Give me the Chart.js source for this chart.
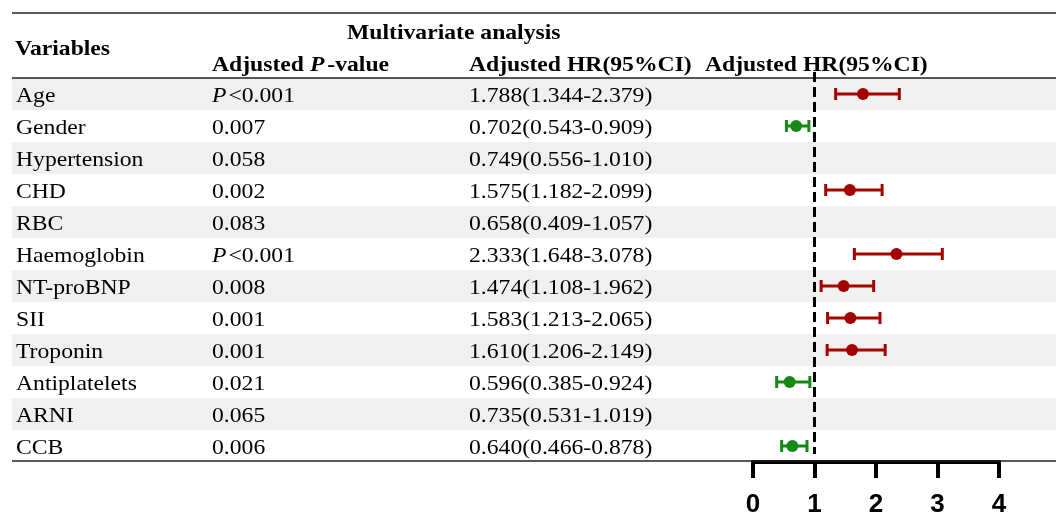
<!DOCTYPE html>
<html>
<head>
<meta charset="utf-8">
<script src="https://cdn.jsdelivr.net/npm/chart.js@4.4.1/dist/chart.umd.min.js"></script>
<style>
  html, body { margin: 0; padding: 0; background: #ffffff; }
  #wrap { width: 1056px; height: 512px; }
</style>
</head>
<body>
<div id="wrap"><canvas id="c" width="1056" height="512"></canvas></div>
<script>
const variables = ['Age','Gender','Hypertension','CHD','RBC','Haemoglobin','NT-proBNP','SII','Troponin','Antiplatelets','ARNI','CCB'];
const pLabels = ['P<0.001','0.007','0.058','0.002','0.083','P<0.001','0.008','0.001','0.001','0.021','0.065','0.006'];
const hrValues = [1.788,0.702,0.749,1.575,0.658,2.333,1.474,1.583,1.610,0.596,0.735,0.640];
const lowerCI = [1.344,0.543,0.556,1.182,0.409,1.648,1.108,1.213,1.206,0.385,0.531,0.466];
const upperCI = [2.379,0.909,1.010,2.099,1.057,3.078,1.962,2.065,2.149,0.924,1.019,0.878];
const xTicks = [0,1,2,3,4];

const RED = '#a30000';
const GREEN = '#138a13';
const SERIF = '"Liberation Serif", "Times New Roman", serif';
const SX = 1.075;

const ciRed = [], ciGreen = [], dots = [];
variables.forEach((v, i) => {
  const lo = lowerCI[i], hi = upperCI[i];
  if (!(hi < 1 || lo > 1)) return;
  const target = hrValues[i] > 1 ? ciRed : ciGreen;
  target.push({x: lo, y: v}, {x: hi, y: v}, {x: null, y: v});
  dots.push({x: hrValues[i], y: v});
});

function stretchText(ctx, str, x, y, font) {
  ctx.save();
  ctx.font = font;
  ctx.translate(x, y);
  ctx.scale(SX, 1);
  ctx.fillText(str, 0, 0);
  const w = ctx.measureText(str).width * SX;
  ctx.restore();
  return w;
}
function runs(ctx, parts, x, y) {
  let cx = x;
  parts.forEach(p => { cx += stretchText(ctx, p[0], cx, y, p[1]) + (p[2] || 0); });
}

const tablePlugin = {
  id: 'tablePlugin',
  beforeDraw(chart) {
    const ctx = chart.ctx;
    const ys = chart.scales.y;
    const half = (ys.getPixelForValue(1) - ys.getPixelForValue(0)) / 2;
    ctx.save();
    ctx.fillStyle = '#ffffff';
    ctx.fillRect(0, 0, chart.width, chart.height);
    variables.forEach((v, i) => {
      if (i % 2 === 0) {
        const yc = ys.getPixelForValue(i);
        ctx.fillStyle = '#f0f0f0';
        ctx.fillRect(12, yc - half, chart.width - 12, half * 2);
      }
    });
    ctx.restore();
  },
  afterDatasetsDraw(chart) {
    const ctx = chart.ctx;
    const ys = chart.scales.y;
    const xs = chart.scales.x;
    const half = (ys.getPixelForValue(1) - ys.getPixelForValue(0)) / 2;
    ctx.save();
    ctx.fillStyle = '#000';
    ctx.textBaseline = 'alphabetic';
    ctx.textAlign = 'left';
    const B = 'bold 22px ' + SERIF;
    const BI = 'italic bold 22px ' + SERIF;
    const N = '22px ' + SERIF;
    const I = 'italic 22px ' + SERIF;
    // header
    stretchText(ctx, 'Multivariate analysis', 347, 39, B);
    stretchText(ctx, 'Variables', 15, 55, B);
    runs(ctx, [['Adjusted ', B], ['P', BI, 3], ['-value', B]], 212, 71);
    stretchText(ctx, 'Adjusted HR(95%CI)', 469, 71, B);
    stretchText(ctx, 'Adjusted HR(95%CI)', 705, 71, B);
    // rows
    variables.forEach((v, i) => {
      const y = ys.getPixelForValue(i) + 8;
      stretchText(ctx, v, 16, y, N);
      const p = pLabels[i];
      if (p.startsWith('P')) runs(ctx, [['P', I, 2], [p.slice(1), N]], 212, y);
      else stretchText(ctx, p, 212, y, N);
      const txt = hrValues[i].toFixed(3) + '(' + lowerCI[i].toFixed(3) + '-' + upperCI[i].toFixed(3) + ')';
      stretchText(ctx, txt, 469, y, N);
    });
    // rules
    const top = ys.getPixelForValue(0) - half;
    const bottom = ys.getPixelForValue(variables.length - 1) + half;
    ctx.strokeStyle = '#222';
    ctx.lineWidth = 1.6;
    [13, top, bottom - 1].forEach(yy => {
      ctx.beginPath(); ctx.moveTo(12, yy); ctx.lineTo(chart.width, yy); ctx.stroke();
    });
    // reference line at HR = 1
    const x1 = xs.getPixelForValue(1);
    ctx.strokeStyle = '#000';
    ctx.lineWidth = 3;
    ctx.setLineDash([10, 5]);
    ctx.beginPath(); ctx.moveTo(x1, 72); ctx.lineTo(x1, bottom - 8); ctx.stroke();
    ctx.restore();
  }
};

new Chart(document.getElementById('c'), {
  type: 'scatter',
  data: {
    datasets: [
      {
        label: 'HR',
        data: dots,
        showLine: false,
        pointStyle: 'circle',
        pointRadius: 6,
        pointBorderWidth: 0,
        pointBackgroundColor: ctx => (ctx.raw && ctx.raw.x > 1 ? RED : GREEN),
        pointBorderColor: ctx => (ctx.raw && ctx.raw.x > 1 ? RED : GREEN)
      },
      {
        label: 'CI high',
        data: ciRed,
        showLine: true,
        spanGaps: false,
        borderColor: RED,
        borderWidth: 3,
        pointStyle: 'line',
        rotation: 90,
        pointRadius: 6,
        pointBorderWidth: 3,
        pointBorderColor: RED
      },
      {
        label: 'CI low',
        data: ciGreen,
        showLine: true,
        spanGaps: false,
        borderColor: GREEN,
        borderWidth: 3,
        pointStyle: 'line',
        rotation: 90,
        pointRadius: 6,
        pointBorderWidth: 3,
        pointBorderColor: GREEN
      }
    ]
  },
  options: {
    responsive: false,
    animation: false,
    devicePixelRatio: 1,
    layout: { padding: { left: 753, right: 57, top: 78, bottom: 0 } },
    plugins: { legend: { display: false }, tooltip: { enabled: false } },
    scales: {
      x: {
        type: 'linear',
        min: xTicks[0],
        max: xTicks[xTicks.length - 1],
        afterBuildTicks: s => { s.ticks = xTicks.map(v => ({ value: v })); },
        afterFit: s => { s.height = 50; },
        border: { display: true, color: '#000', width: 4 },
        grid: { drawOnChartArea: false, drawTicks: true, tickLength: 16, lineWidth: 4, color: '#000' },
        ticks: { color: '#000', padding: 11, font: { family: '"Liberation Sans", Arial, sans-serif', size: 26, weight: 'bold' } }
      },
      y: {
        type: 'category',
        labels: variables,
        offset: true,
        display: false
      }
    }
  },
  plugins: [tablePlugin]
});
</script>
</body>
</html>
